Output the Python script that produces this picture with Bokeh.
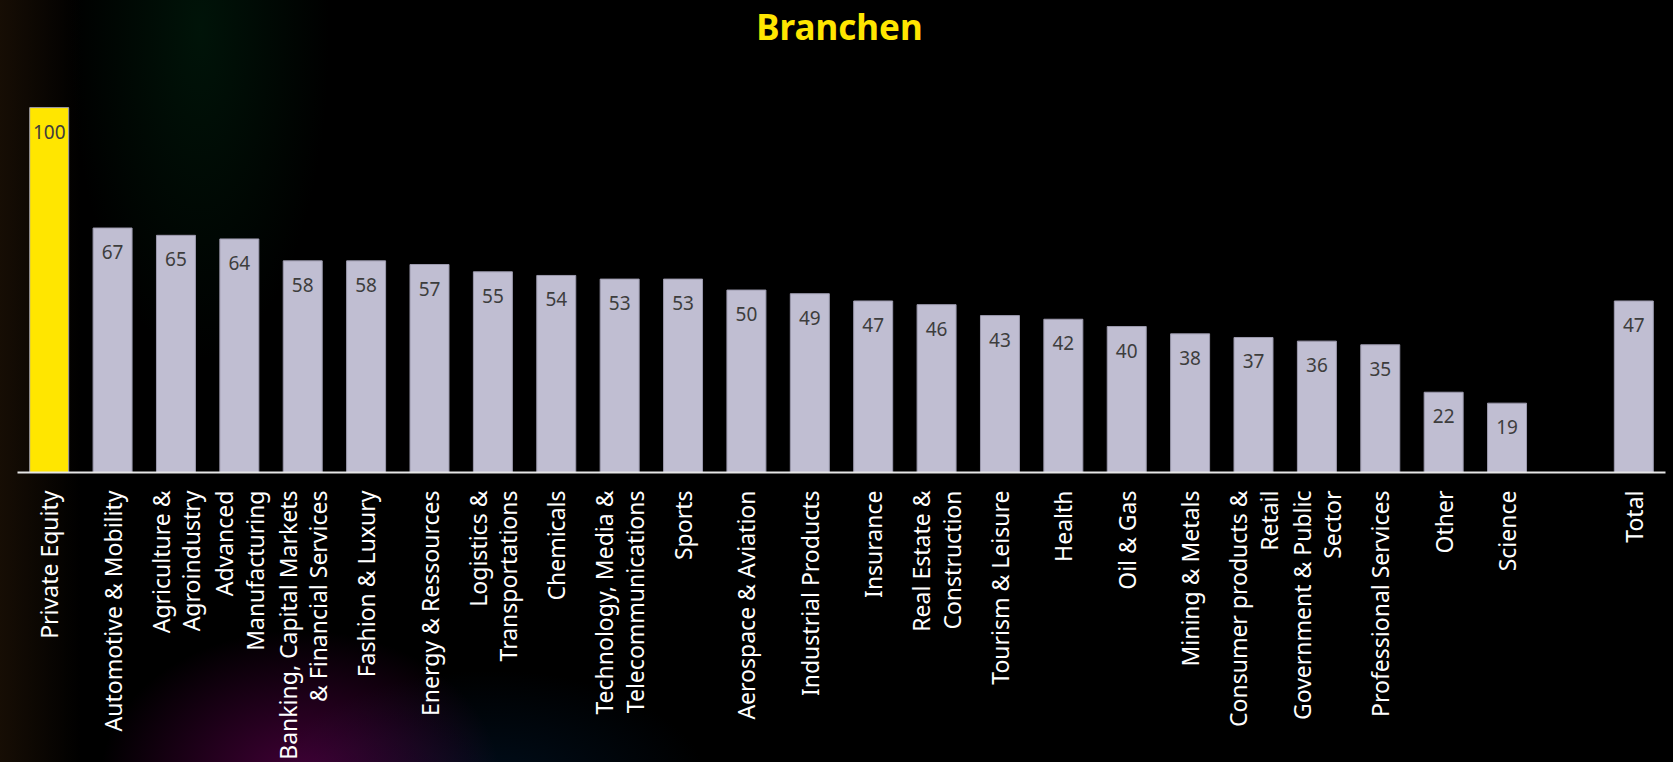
from bokeh.plotting import figure
from bokeh.models import ColumnDataSource, FactorRange, Range1d, Label
from bokeh.embed import file_html
from bokeh.resources import INLINE
from bokeh.core.properties import value

title_text = "Branchen"

categories = [
    "Private Equity",
    "Automotive & Mobility",
    "Agriculture &\nAgroindustry",
    "Advanced\nManufacturing",
    "Banking, Capital Markets\n& Financial Services",
    "Fashion & Luxury",
    "Energy & Ressources",
    "Logistics &\nTransportations",
    "Chemicals",
    "Technology, Media &\nTelecommunications",
    "Sports",
    "Aerospace & Aviation",
    "Industrial Products",
    "Insurance",
    "Real Estate &\nConstruction",
    "Tourism & Leisure",
    "Health",
    "Oil & Gas",
    "Mining & Metals",
    "Consumer products &\nRetail",
    "Government & Public\nSector",
    "Professional Services",
    "Other",
    "Science",
    "Total",
]
values = [100, 67, 65, 64, 58, 58, 57, 55, 54, 53, 53, 50, 49, 47, 46, 43, 42,
          40, 38, 37, 36, 35, 22, 19, 47]

highlight = "Private Equity"
YELLOW = "#FFE600"
BAR = "#C0BED2"

factors = categories[:-1] + [" "] + categories[-1:]

colors = [YELLOW if c == highlight else BAR for c in categories]
src = ColumnDataSource(dict(x=categories, top=values, color=colors,
                            label=[str(v) for v in values]))

BG = ("radial-gradient(130px 330px at 200px 30px, rgba(0,70,30,0.28), rgba(0,0,0,0)), "
      "radial-gradient(200px 150px at 300px 780px, rgba(120,0,100,0.55), rgba(0,0,0,0)), "
      "radial-gradient(220px 120px at 490px 790px, rgba(0,35,70,0.40), rgba(0,0,0,0)), "
      "linear-gradient(to right, rgba(30,18,6,0.75), rgba(0,0,0,0) 80px), #000")

# frame spans from the canvas top (0) to the axis at 476 px; 3.68 px per unit
p = figure(
    x_range=FactorRange(*factors, range_padding=0),
    y_range=Range1d(0, 129.35),
    width=1673, height=762,
    output_backend="svg", toolbar_location=None,
    background_fill_color=None, border_fill_color=None,
    min_border_left=17, min_border_right=8, min_border_top=0, min_border_bottom=286,
)
p.styles = {"background": BG}
p.outline_line_color = None

p.vbar(x="x", top="top", width=0.615, color="color", line_color="#9c9aae",
       line_width=1, source=src)
p.text(x="x", y="top", text="label", source=src, y_offset=24,
       text_align="center", text_baseline="middle",
       text_font=value("Noto Sans"), text_font_size="19px", text_color="#3d3d3d")

p.add_layout(Label(x=822, y=446, x_units="screen", y_units="screen",
                   text=title_text, text_align="center", text_baseline="alphabetic",
                   text_font="Noto Sans", text_font_style="bold",
                   text_font_size="35px", text_color=YELLOW))

p.yaxis.visible = False
p.grid.visible = False
ax = p.xaxis[0]
ax.axis_line_color = "#e6e6e6"
ax.axis_line_width = 2
ax.major_tick_line_color = None
ax.minor_tick_line_color = None
ax.major_label_orientation = 1.5707963
ax.major_label_standoff = 12
ax.major_label_text_color = "white"
ax.major_label_text_font = "Noto Sans"
ax.major_label_text_font_size = "23px"
ax.major_label_text_line_height = 0.95

open("out.html", "w").write(file_html(p, INLINE))
